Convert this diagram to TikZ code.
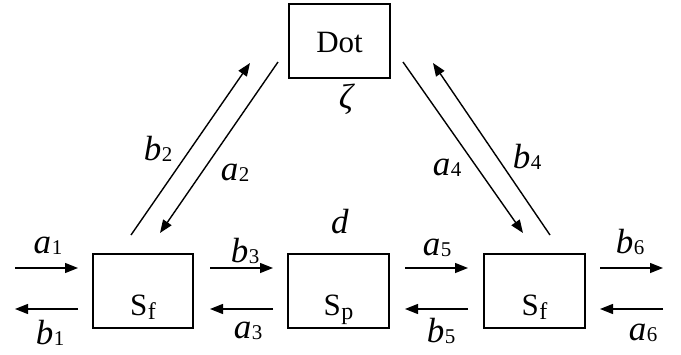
\documentclass[tikz,border=0pt]{standalone}
\usepackage{fontspec}
\setmainfont{Liberation Serif}
\usetikzlibrary{arrows.meta}
\newcommand{\lab}[2]{\textit{#1}\kern0.5pt\raisebox{-1.5pt}{\fontsize{21}{21}\selectfont #2}}
\newcommand{\boxsub}[2]{#1\kern0.5pt\raisebox{-4pt}{\fontsize{24}{24}\selectfont #2}}
\tikzset{
  blk/.style={draw, line width=1.6pt, rectangle, inner sep=0pt, minimum width=100pt,
    minimum height=74pt, font=\fontsize{31}{31}\selectfont, align=center},
  arr/.style={line width=1.4pt, -{Triangle[length=13pt,width=10pt]}},
  lbl/.style={font=\fontsize{35}{35}\selectfont, inner sep=0pt, anchor=base}
}
\begin{document}
\begin{tikzpicture}[x=1pt,y=-1pt]
\useasboundingbox (0,0) rectangle (681,354);
% boxes
\node[blk, minimum width=101pt, text height=48pt, text depth=26pt] (dot) at (339.5,41) {Dot};
\node[blk, text height=61pt, text depth=13pt] (sfl) at (143,291) {\boxsub{S}{f}};
\node[blk, minimum width=101pt, text height=61pt, text depth=13pt] (sp) at (338.5,291) {\boxsub{S}{p}};
\node[blk, minimum width=101pt, text height=61pt, text depth=13pt] (sfr) at (534.5,291) {\boxsub{S}{f}};
% horizontal arrow end points
\coordinate (a1s) at (15,268);  \coordinate (a1e) at (78,268);
\coordinate (b1s) at (78,309);  \coordinate (b1e) at (15,309);
\coordinate (b3s) at (210,268); \coordinate (b3e) at (273,268);
\coordinate (a3s) at (273,309); \coordinate (a3e) at (210,309);
\coordinate (a5s) at (405,268); \coordinate (a5e) at (468,268);
\coordinate (b5s) at (468,309); \coordinate (b5e) at (405,309);
\coordinate (b6s) at (600,268); \coordinate (b6e) at (663,268);
\coordinate (a6s) at (663,309); \coordinate (a6e) at (600,309);
% diagonal end points
\coordinate (b2s) at (131,235); \coordinate (b2e) at (250,63);
\coordinate (a2s) at (278,62);  \coordinate (a2e) at (160,233);
\coordinate (a4s) at (403,62);  \coordinate (a4e) at (523,233);
\coordinate (b4s) at (550,235); \coordinate (b4e) at (433,63);
% arrows
\draw[arr] (a1s) -- (a1e);
\draw[arr] (b1s) -- (b1e);
\draw[arr] (b3s) -- (b3e);
\draw[arr] (a3s) -- (a3e);
\draw[arr] (a5s) -- (a5e);
\draw[arr] (b5s) -- (b5e);
\draw[arr] (b6s) -- (b6e);
\draw[arr] (a6s) -- (a6e);
\draw[arr] (b2s) -- (b2e);
\draw[arr] (a2s) -- (a2e);
\draw[arr] (a4s) -- (a4e);
\draw[arr] (b4s) -- (b4e);
% labels
\node[lbl] (la1) at (48,253) {\lab{a}{1}};
\node[lbl] (lb1) at (50,344) {\lab{b}{1}};
\node[lbl] (lb3) at (245,262) {\lab{b}{3}};
\node[lbl] (la3) at (248,338) {\lab{a}{3}};
\node[lbl] (la5) at (437,255) {\lab{a}{5}};
\node[lbl] (lb5) at (441,342) {\lab{b}{5}};
\node[lbl] (lb6) at (630,253) {\lab{b}{6}};
\node[lbl] (la6) at (643,340) {\lab{a}{6}};
\node[lbl] (lb2) at (158,160) {\lab{b}{2}};
\node[lbl] (la2) at (235,180) {\lab{a}{2}};
\node[lbl] (la4) at (447,175) {\lab{a}{4}};
\node[lbl] (lb4) at (527,168) {\lab{b}{4}};
\node[lbl] (ld) at (340,233) {\textit{d}};
\node[lbl] (lz) at (347,108) {\textit{ζ}};
\end{tikzpicture}
\end{document}
